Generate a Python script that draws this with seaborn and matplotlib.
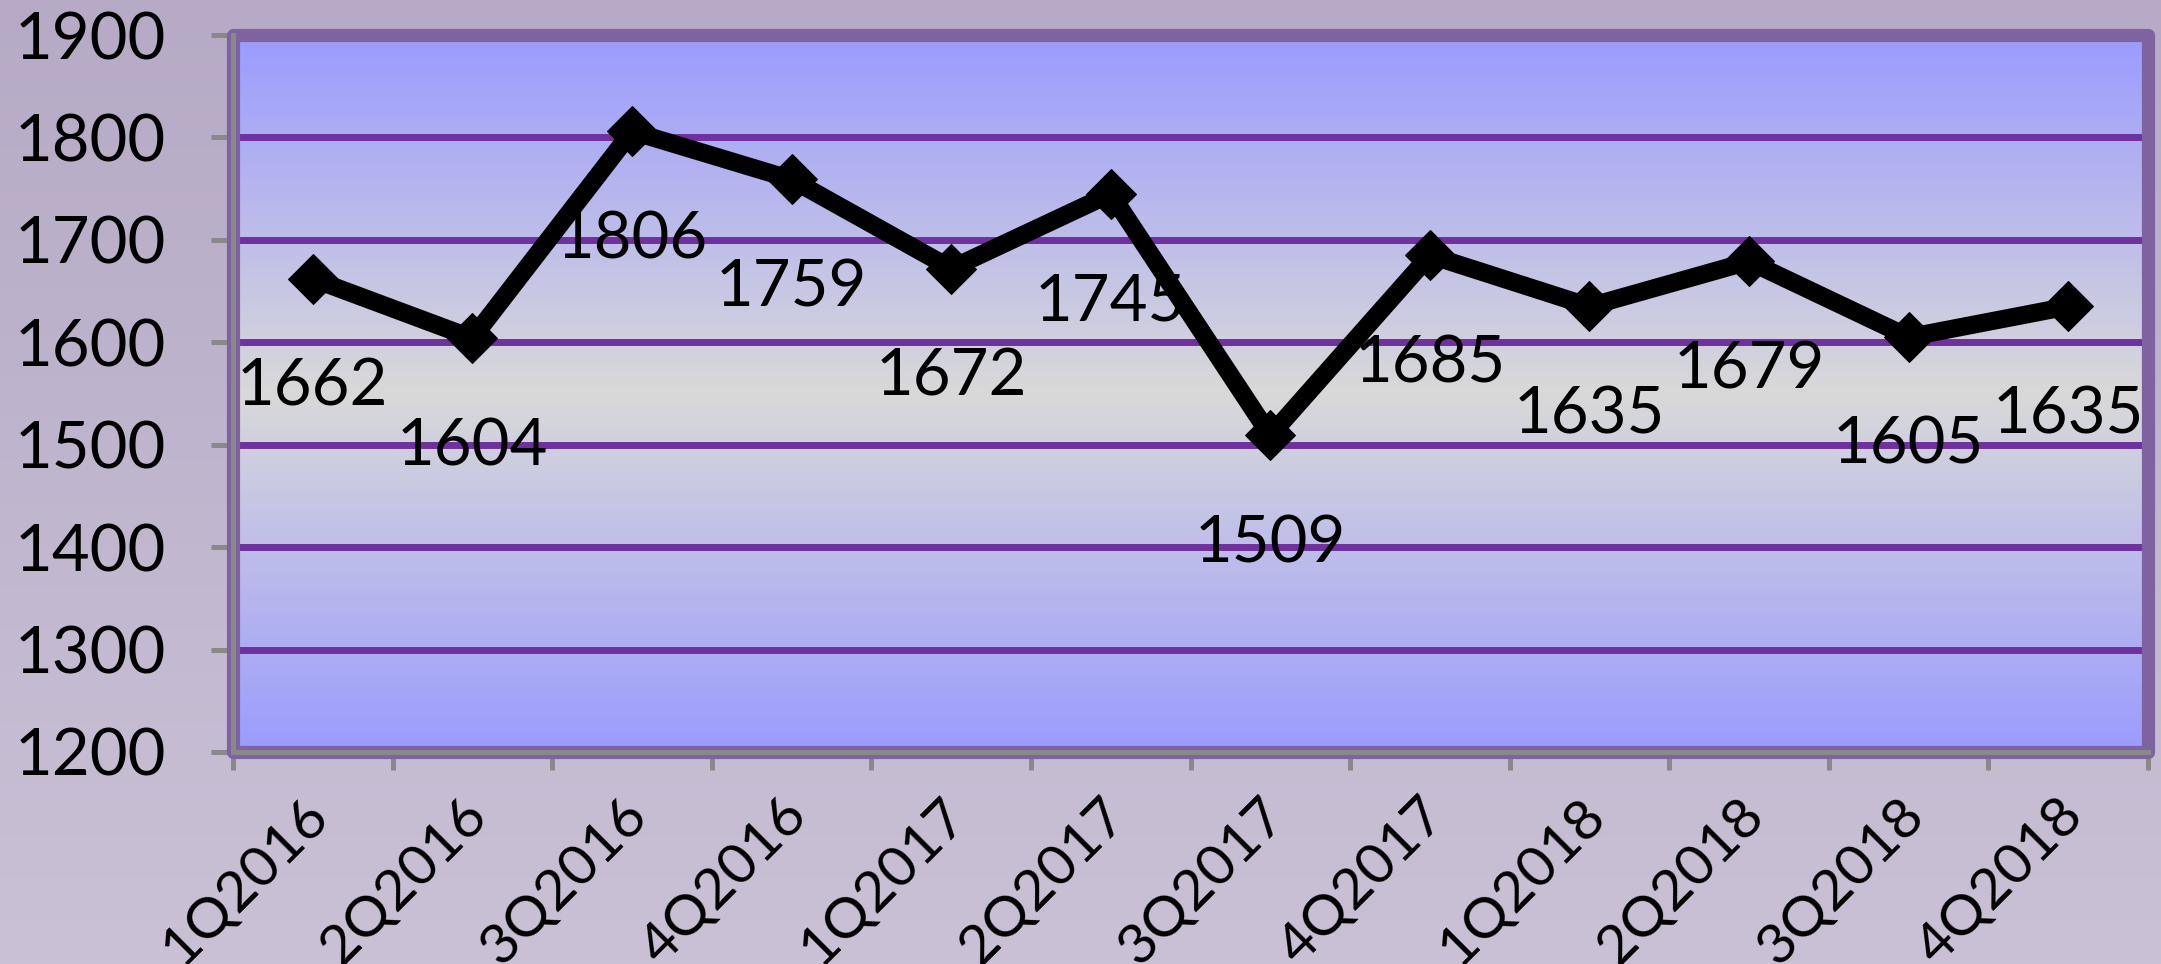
import numpy as np
import seaborn as sns
import matplotlib
matplotlib.use('Agg')
import matplotlib.pyplot as plt
from matplotlib.colors import LinearSegmentedColormap
from matplotlib.patches import Rectangle
from matplotlib.transforms import ScaledTranslation

# данные
quarters = ['1Q2016', '2Q2016', '3Q2016', '4Q2016',
            '1Q2017', '2Q2017', '3Q2017', '4Q2017',
            '1Q2018', '2Q2018', '3Q2018', '4Q2018']
values = [1662, 1604, 1806, 1759, 1672, 1745, 1509, 1685, 1635, 1679, 1605, 1635]
y_ticks = [1200, 1300, 1400, 1500, 1600, 1700, 1800, 1900]

plt.rcParams['font.family'] = ['Lato', 'DejaVu Sans']
plt.rcParams['font.size'] = 47

fig = plt.figure(figsize=(21.61, 9.64), dpi=100)

# фон всей картинки (градиент)
bg = fig.add_axes([0, 0, 1, 1], zorder=-5)
bg_cmap = LinearSegmentedColormap.from_list('bg', ['#B6AAC6', '#CAC1D6'])
bg.imshow(np.linspace(0, 1, 256).reshape(-1, 1), cmap=bg_cmap, aspect='auto')
bg.axis('off')

ax = fig.add_axes([233 / 2161, 1 - 752 / 964, (2148 - 233) / 2161, (752 - 35) / 964])
ax.set_facecolor('none')

sns.lineplot(x=quarters, y=values, ax=ax, color='black', linewidth=13,
             marker='D', markersize=25, markeredgecolor='black', zorder=3)

ax.set_xlim(-0.5, len(quarters) - 0.5)
ax.set_ylim(y_ticks[0], y_ticks[-1])

# градиент области построения
plot_cmap = LinearSegmentedColormap.from_list('plot', ['#9B9BFF', '#D9D9D9', '#9B9BFF'])
ax.imshow(np.linspace(0, 1, 256).reshape(-1, 1), cmap=plot_cmap, aspect='auto',
          extent=[-0.5, len(quarters) - 0.5, y_ticks[0], y_ticks[-1]], zorder=0)

ax.set_yticks(y_ticks)
ax.set_axisbelow(True)
ax.yaxis.grid(True, color='#7030A0', linewidth=5)
ax.xaxis.grid(False)

# подписи значений
for i, v in enumerate(values):
    ax.annotate(str(v), (i, v), xytext=(0, -78), textcoords='offset points',
                ha='center', va='center', zorder=1.5)

# рамка области построения
frame = Rectangle((0, 0), 1, 1, transform=ax.transAxes, fill=False,
                  edgecolor='#7F63A0', linewidth=9.5, joinstyle='round',
                  clip_on=False, zorder=2.4)
ax.add_patch(frame)

for s in ['top', 'right']:
    ax.spines[s].set_visible(False)
for s in ['left', 'bottom']:
    ax.spines[s].set_color('#898989')
    ax.spines[s].set_linewidth(3.6)
    ax.spines[s].set_zorder(2.5)

ax.set_xticks(range(len(quarters)))
ax.set_xticklabels(quarters, rotation=45, ha='right', fontsize=41)
ax.set_xticks(np.arange(-0.5, len(quarters), 1), minor=True)
ax.tick_params(axis='x', which='major', length=0, pad=27)
ax.tick_params(axis='x', which='minor', length=13, width=3.6, color='#898989')
ax.tick_params(axis='y', length=16, width=3.6, color='#898989', pad=32)
for lbl in ax.get_xticklabels():
    lbl.set_transform(lbl.get_transform() + ScaledTranslation(0.25, 0, fig.dpi_scale_trans))

ax.set_xlabel('')
ax.set_ylabel('')

fig.savefig('out.png', dpi=100)
